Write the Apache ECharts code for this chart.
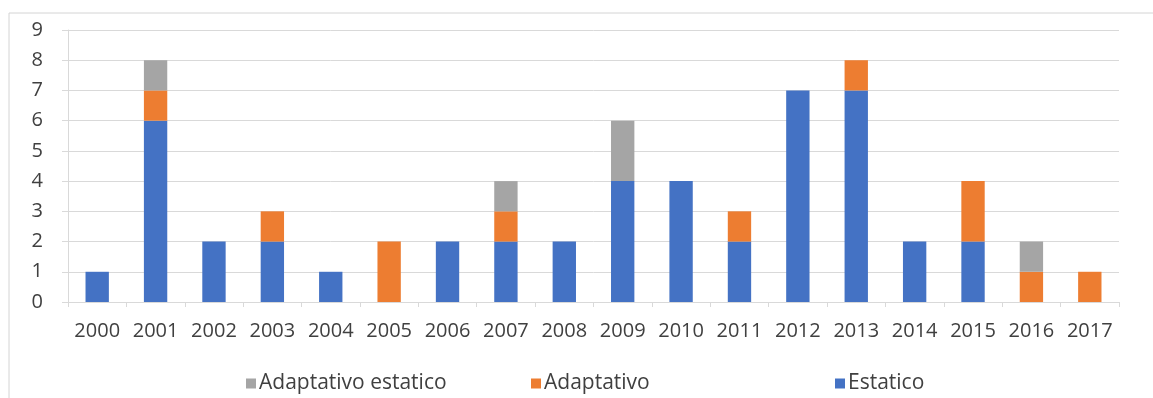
<!DOCTYPE html>
<html>
<head>
<meta charset="utf-8">
<script src="https://cdn.jsdelivr.net/npm/echarts@6/dist/echarts.min.js"></script>
<style>
html,body{margin:0;padding:0;background:#fff;}
#chart{width:1153px;height:398px;}
</style>
</head>
<body>
<div id="chart"></div>
<script>
const years = ['2000','2001','2002','2003','2004','2005','2006','2007','2008','2009','2010','2011','2012','2013','2014','2015','2016','2017'];
const estatico = [1,6,2,2,1,0,2,2,2,4,4,2,7,7,2,2,0,0];
const adaptativo = [0,1,0,1,0,2,0,1,0,0,0,1,0,1,0,2,1,1];
const adaptativoEstatico = [0,1,0,0,0,0,0,1,0,2,0,0,0,0,0,0,1,0];
const yTicks = [0,1,2,3,4,5,6,7,8,9];

const FONT = 'Open Sans';
const TXT = '#404040';
const GRID = '#d9d9d9';

const chart = echarts.init(document.getElementById('chart'), null, {renderer:'canvas'});
const legendBase = {
  top: 368, itemWidth: 10, itemHeight: 10, itemGap: 0, icon: 'rect',
  textStyle: {color: TXT, fontFamily: FONT, fontSize: 21, padding:[0,0,0,-2]},
  selectedMode: false
};
chart.setOption({
  animation: false,
  backgroundColor: '#fff',
  graphic: [
    {type:'line', shape:{x1:9, y1:13, x2:1153, y2:13}, style:{stroke:'#d4d4d4', lineWidth:1}},
    {type:'line', shape:{x1:9, y1:13, x2:9, y2:398}, style:{stroke:'#d4d4d4', lineWidth:1}}
  ],
  grid: {left: 68, top: 30, width: 1051, height: 272, containLabel: false},
  legend: [
    Object.assign({}, legendBase, {left: 241, data: ['Adaptativo estatico']}),
    Object.assign({}, legendBase, {left: 526, data: ['Adaptativo']}),
    Object.assign({}, legendBase, {left: 830, data: ['Estatico']})
  ],
  xAxis: {
    type: 'category',
    data: years,
    axisLine: {show: true, lineStyle: {color: GRID, width: 1}},
    axisTick: {show: true, alignWithLabel: false, interval: 0, length: 5, lineStyle: {color: GRID}},
    axisLabel: {color: TXT, fontFamily: FONT, fontSize: 20, margin: 19, interval: 0, hideOverlap: false}
  },
  yAxis: {
    type: 'value',
    min: 0, max: 9, interval: 1,
    axisLine: {show: true, lineStyle: {color: GRID}},
    axisTick: {show: true, length: 6, lineStyle: {color: GRID}},
    splitLine: {show: true, lineStyle: {color: GRID, width: 1}},
    axisLabel: {color: TXT, fontFamily: FONT, fontSize: 20, margin: 25,
      formatter: function(v){ return yTicks.indexOf(v) >= 0 ? String(v) : ''; }}
  },
  series: [
    {name: 'Estatico', type: 'bar', stack: 's', data: estatico, barWidth: '40%', itemStyle: {color: '#4472C4'}},
    {name: 'Adaptativo', type: 'bar', stack: 's', data: adaptativo, barWidth: '40%', itemStyle: {color: '#ED7D31'}},
    {name: 'Adaptativo estatico', type: 'bar', stack: 's', data: adaptativoEstatico, barWidth: '40%', itemStyle: {color: '#A5A5A5'}}
  ]
});
</script>
</body>
</html>
